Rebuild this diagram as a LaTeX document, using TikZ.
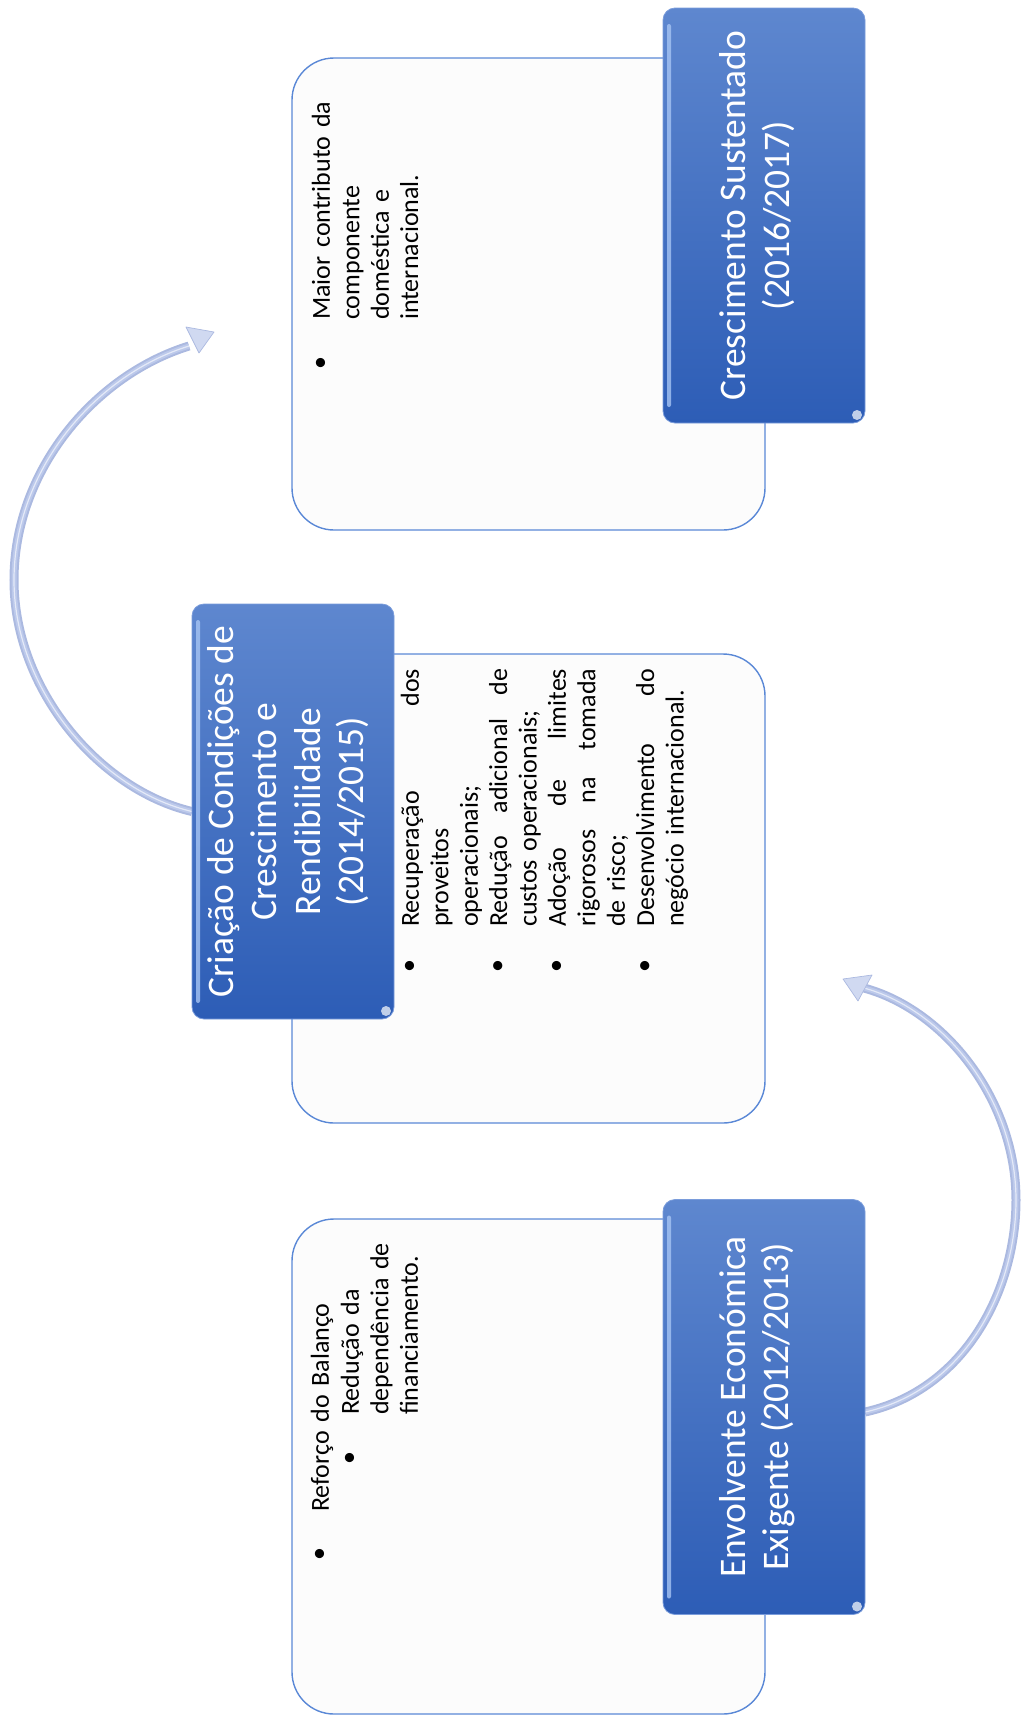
\documentclass[tikz,border=0pt]{standalone}
\usepackage{fontspec}
\setmainfont{Carlito}
\usetikzlibrary{calc}
\definecolor{boxtop}{HTML}{5E87CF}
\definecolor{boxbot}{HTML}{2D5DB6}
\definecolor{boxrim}{HTML}{7A9CDB}
\definecolor{paneledge}{HTML}{5A88D6}
\definecolor{panelfill}{HTML}{FCFCFC}
\definecolor{arcdark}{HTML}{ABB9E0}
\definecolor{arcmid}{HTML}{BCC9EB}
\definecolor{arclight}{HTML}{EEF2FB}
\definecolor{stripe}{HTML}{A6C4F3}
\pgfdeclarelayer{back}
\pgfsetlayers{back,main}

\begin{document}
\begin{tikzpicture}[x=1pt,y=-1pt,
  panel/.style={draw=paneledge, line width=1.4pt, fill=panelfill,
    rounded corners=42pt, inner sep=0pt, outer sep=0pt},
  phase/.style={rounded corners=12pt, top color=boxtop, bottom color=boxbot,
    draw=boxrim, line width=0.8pt, inner sep=0pt, outer sep=0pt,
    minimum width=202pt, minimum height=415pt},
  phasetext/.style={rotate=90, text=white, align=center, inner sep=0pt,
    font=\fontsize{37.5}{43.5}\selectfont},
  body/.style={rotate=90, anchor=north west, inner sep=0pt, align=left,
    text width=#1, font=\fontsize{26}{29.4}\selectfont},
  dot/.style={rotate=90, inner sep=0pt, font=\fontsize{26}{29.4}\selectfont},
  shaft/.style={draw=arcdark, line width=9pt,
    postaction={draw=arcmid, line width=5pt},
    postaction={draw=arclight, line width=1.2pt, opacity=.8}},
  head/.style={fill=arcmid!70!white, draw=arcdark, line width=0.7pt, line join=round}
]
\useasboundingbox (0,0) rectangle (1021,1717);

% content panels
\node[panel, minimum width=473pt, minimum height=472pt] (p1) at (528.5,294) {};
\node[panel, minimum width=473pt, minimum height=469pt] (p2) at (528.5,888.5) {};
\node[panel, minimum width=473pt, minimum height=495pt] (p3) at (528.5,1466.5) {};

% phase boxes
\node[phase] (b1) at (764,215.5) {};
\node[phase] (b2) at (293,811.5) {};
\node[phase] (b3) at (764,1407) {};
\foreach \b in {b1,b2,b3}{
  \fill[stripe, opacity=.8, rounded corners=2pt]
    ([xshift=4pt,yshift=-16pt]\b.north west) rectangle ([xshift=8pt,yshift=16pt]\b.south west);
  \fill[white, opacity=.7] ([xshift=-8pt,yshift=8pt]\b.south east) circle [radius=5pt];
}

\node[phasetext] (l1) at (757,215.5) {Crescimento Sustentado\\(2016/2017)};
\node[phasetext] (l2) at (288,811.5) {Criação de Condições de\\Crescimento e\\Rendibilidade\\(2014/2015)};
\node[phasetext] (l3) at (757,1407) {Envolvente Económica\\Exigente (2012/2013)};

% panel texts
\node[dot] (d1) at (322,363) {\textbullet};
\node[body=260pt] (t1) at (309.2,320) {\strut Maior contributo da\\componente\\doméstica e\\internacional.};

\node[dot] (d2a) at (411,966) {\textbullet};
\node[dot] (d2b) at (499.2,966) {\textbullet};
\node[dot] (d2c) at (558,966) {\textbullet};
\node[dot] (d2d) at (646.2,966) {\textbullet};
\node[body=258pt] (t2a) at (398.2,927) {\strut Recuperação\hfill dos\\proveitos\\operacionais;};
\node[body=258pt] (t2b) at (486.4,927) {\strut Redução\hfill adicional\hfill de\\custos operacionais;};
\node[body=258pt] (t2c) at (545.2,927) {\strut Adoção\hfill de\hfill limites\\rigorosos\hfill na\hfill tomada\\de risco;};
\node[body=258pt] (t2d) at (633.4,927) {\strut Desenvolvimento\hfill do\\negócio internacional.};

\node[dot] (d3) at (321,1554) {\textbullet};
\node[body=260pt] (t3) at (308.2,1512) {\strut Reforço do Balanço};
\node[dot] (d3s) at (351,1458) {\textbullet};
\node[body=230pt] (t3s) at (338.2,1415) {\strut Redução da\\dependência de\\financiamento.};

% curved arrows between phases
\coordinate (e1) at (189,346);
\coordinate (h1) at (214,332);
\coordinate (h1a) at (186,327);
\coordinate (h1b) at (199,353);
\coordinate (e2) at (864,988);
\coordinate (h2) at (843,979);
\coordinate (h2a) at (872,975);
\coordinate (h2b) at (858,1001);
\begin{pgfonlayer}{back}
  \draw[shaft] (b2.west) .. controls (100,790) and (14,690) .. (14,580)
    .. controls (14,470) and (95,375) .. (e1);
  \filldraw[head] (h1) -- (h1a) -- (h1b) -- cycle;
  \draw[shaft] ([yshift=-5pt]b3.east) .. controls (965,1390) and (1016,1290) .. (1016,1200)
    .. controls (1016,1100) and (945,1010) .. (e2);
  \filldraw[head] (h2) -- (h2a) -- (h2b) -- cycle;
\end{pgfonlayer}
\end{tikzpicture}
\end{document}
